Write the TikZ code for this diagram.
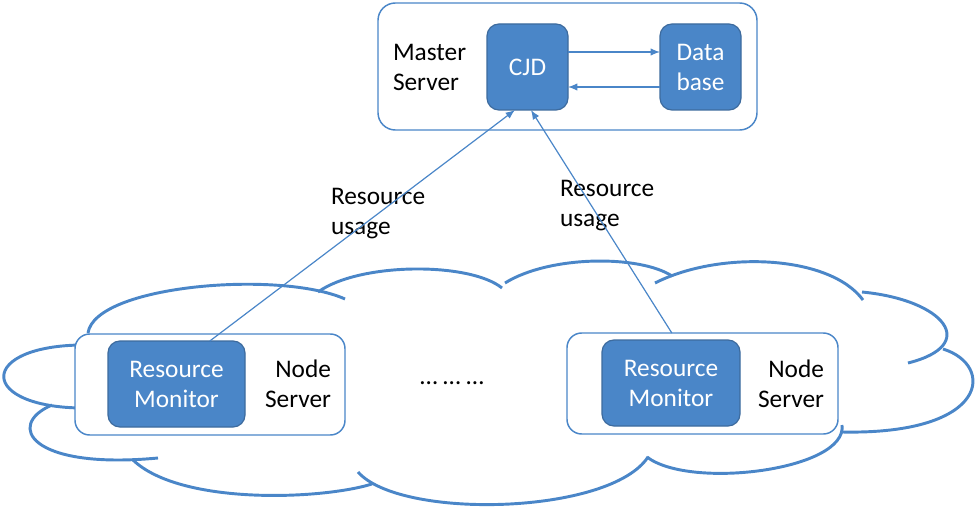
\documentclass[tikz,border=0pt]{standalone}
\usepackage{fontspec}
\setmainfont{Carlito}
\usepackage{tikz}
\usetikzlibrary{positioning,arrows.meta}
\definecolor{BoxBlue}{HTML}{4A86C8}
\definecolor{BoxEdge}{HTML}{3D6B9E}
\definecolor{LineBlue}{HTML}{4A86C8}

\begin{document}
\begin{tikzpicture}[x=0.75pt, y=-0.75pt, >={Latex[length=7pt,width=5.5pt]},
                    every node/.style={font=\fontsize{19}{22.5}\selectfont, inner sep=0pt, outer sep=0pt},
                    server/.style={draw=LineBlue, line width=1.1pt, fill=white, rounded corners=11pt},
                    module/.style={draw=BoxEdge, line width=0.9pt, fill=BoxBlue, rounded corners=9pt,
                                   text=white, align=center, minimum height=64.5pt},
                    txt/.style={text=black},
                    lobe/.style={draw=LineBlue, line width=2.2pt},
                    link/.style={draw=LineBlue, line width=0.9pt}]
\useasboundingbox (0,0) rectangle (975,510);
% cloud
\draw[lobe] (90,345) .. controls (-25,343) and (-25,410) .. (90,408);
\draw[lobe] (52,405) .. controls (5,425) and (30,470) .. (158,458);
\draw[lobe] (133,460) .. controls (180,505) and (320,500) .. (372,484);
\draw[lobe] (648,457) .. controls (610,515) and (400,520) .. (358,472);
\draw[lobe] (842,425) .. controls (848,470) and (690,490) .. (647,457);
\draw[lobe] (943,349) .. controls (995,365) and (990,435) .. (842,432);
\draw[lobe] (862,292) .. controls (945,300) and (980,345) .. (908,363);
\draw[lobe] (655,283) .. controls (720,250) and (830,255) .. (863,300);
\draw[lobe] (505,283) .. controls (550,255) and (640,255) .. (672,276);
\draw[lobe] (318,292) .. controls (360,262) and (470,262) .. (502,288);
\draw[lobe] (88,333) .. controls (95,285) and (280,270) .. (345,299);
% master side
\node[server, rounded corners=13pt, minimum width=284.25pt, minimum height=95.25pt] (master) at (567.5,66.5) {};
\node[module, minimum width=60.75pt] (cjd) at (527.5,67) {CJD};
\node[module, minimum width=60.75pt, right=69pt of cjd] (db) {Data\\base};
\node[txt, anchor=west, align=left] (mlabel) at (393,67) {Master\\Server};
% node servers
\node[server, minimum width=202.5pt, minimum height=75.75pt] (nodeA) at (210,384.5) {};
\node[module, minimum width=102.75pt] (monA) at (176.5,384) {Resource\\Monitor};
\node[txt, anchor=east, align=right] (nlabelA) at (331,384) {Node\\Server};
\node[server, minimum width=203.25pt, minimum height=75.75pt] (nodeB) at (702.5,383.5) {};
\node[module, minimum width=103.5pt] (monB) at (671,383) {Resource\\Monitor};
\node[txt, anchor=east, align=right] (nlabelB) at (824,384) {Node\\Server};
\node[txt] (dots) at (452,383) {\ldots\ \ldots\ \ldots};
% usage labels
\node[txt, anchor=west, align=left] (usageA) at (331,214) {Resource\\usage};
\node[txt, anchor=west, align=left] (usageB) at (560,206) {Resource\\usage};
% links
\draw[link,->] ([yshift=11.25pt]cjd.east) -- ([yshift=11.25pt]db.west);
\draw[link,->] ([yshift=-15pt]db.west) -- ([yshift=-15pt]cjd.east);
\draw[link,->] ([xshift=25pt]monA.north) -- ([xshift=-9.4pt]cjd.south);
\draw[link,->] ([xshift=-23pt]nodeB.north) -- ([xshift=2.6pt]cjd.south);
\end{tikzpicture}
\end{document}
